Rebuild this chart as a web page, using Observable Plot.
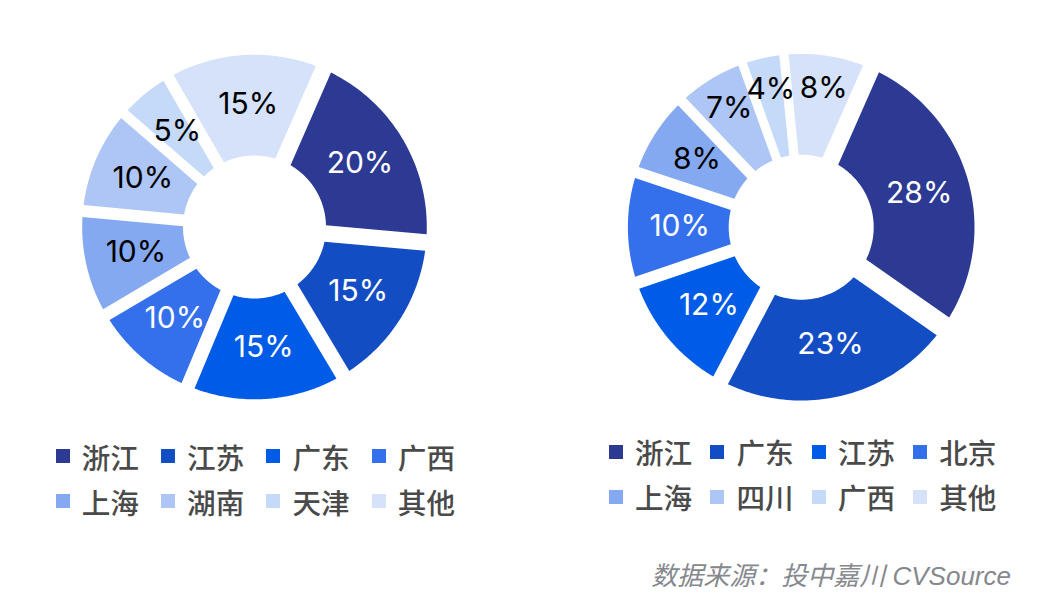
<!DOCTYPE html>
<html lang="zh">
<head>
<meta charset="utf-8">
<script src="https://cdn.jsdelivr.net/npm/d3@7"></script>
<script src="https://cdn.jsdelivr.net/npm/@observablehq/plot@0.6"></script>
<style>
  html, body { margin: 0; padding: 0; background: #fff; }
  #page { position: relative; width: 1044px; height: 614px; overflow: hidden; font-family: "Noto Sans CJK SC", sans-serif; }
  .chart { position: absolute; top: 0; }
  .chart svg { display: block; background: transparent; }
  .legend { position: absolute; display: grid; grid-template-rows: repeat(2, 45px); grid-auto-flow: row; color: #4a4a4a; font-size: 28.6px; font-weight: 500; }
  .legend .item { display: flex; align-items: center; white-space: nowrap; }
  .legend .swatch { width: 14px; height: 14px; margin-right: 12px; flex: none; }
  #source { position: absolute; right: 33px; top: 557px; font-family: "Liberation Sans", "Noto Sans CJK SC", sans-serif; font-size: 26px; line-height: 38px; font-style: italic; color: #85888d; white-space: nowrap; }
</style>
</head>
<body>
<div id="page">
  <div class="chart" id="leftChart" style="left:0"></div>
  <div class="chart" id="rightChart" style="left:522px"></div>
  <div class="legend" id="leftLegend" style="left:55.7px;top:433.5px;grid-template-columns:repeat(4,105.4px)"></div>
  <div class="legend" id="rightLegend" style="left:609px;top:429px;grid-template-columns:repeat(4,101.4px)"></div>
  <div id="source">数据来源：投中嘉川 CVSource</div>
</div>
<script>
const palette = ["#2C3A94", "#134DC4", "#005CE6", "#3570EC", "#85A9F0", "#AEC6F5", "#C5D9F8", "#D5E2F9"];
const labelColors = ["#fff", "#fff", "#fff", "#fff", "#000", "#000", "#000", "#000"];

const leftRegions = ["浙江", "江苏", "广东", "广西", "上海", "湖南", "天津", "其他"];
const leftValues = [19.9, 15, 14.9, 10.2, 10, 9.9, 5.3, 14.9];
const leftGaps = [16.6, 15, 14, 12.6, 12, 10, 11.7, 16.6];          // px after each slice

const rightRegions = ["浙江", "广东", "江苏", "北京", "上海", "四川", "广西", "其他"];
const rightValues = [28.1, 23, 12.1, 10.3, 7.8, 6.6, 3.9, 8.2];
const rightGaps = [21.7, 16.5, 12.7, 11.7, 10.7, 9, 9.3, 17.3];     // px after each slice

function donut(target, regions, values, gaps, opts) {
  const {width, height, cx, cy, outer, inner, start, labelRadius} = opts;
  const total = d3.sum(values);
  const polar = (deg, r) => {
    const a = deg * Math.PI / 180;
    return {x: r * Math.sin(a), y: r * Math.cos(a)};
  };
  const pad = (g, r) => Math.asin(g / 2 / r) * 180 / Math.PI;
  let acc = start;
  const outline = [], labels = [];
  regions.forEach((region, i) => {
    const a0 = acc, a1 = acc + values[i] / total * 360;
    acc = a1;
    const g0 = gaps[(i + gaps.length - 1) % gaps.length], g1 = gaps[i];
    const pts = [];
    const o0 = a0 + pad(g0, outer), o1 = a1 - pad(g1, outer);
    const n0 = a0 + pad(g0, inner), n1 = a1 - pad(g1, inner);
    for (let k = 0; k <= 60; ++k) pts.push(polar(o0 + (o1 - o0) * k / 60, outer));
    for (let k = 60; k >= 0; --k) pts.push(polar(n0 + (n1 - n0) * k / 60, inner));
    pts.push(pts[0]);
    pts.forEach(p => outline.push({region, x: p.x, y: p.y}));
    const mid = polar((a0 + a1) / 2, labelRadius ? labelRadius[i] : 122);
    labels.push({region, text: Math.round(values[i]) + "%", color: labelColors[i], x: mid.x, y: mid.y});
  });
  const chart = Plot.plot({
    width, height,
    margin: 0,
    style: {background: "transparent"},
    x: {domain: [-cx, width - cx], axis: null},
    y: {domain: [cy - height, cy], axis: null},
    color: {domain: regions, range: palette},
    marks: [
      Plot.line(outline, {x: "x", y: "y", z: "region", fill: "region", stroke: "none", curve: "linear"}),
      Plot.text(labels, {x: "x", y: "y", text: "text", fill: "color", fontSize: 30, fontFamily: "Inter, sans-serif", fontWeight: 400, textAnchor: "middle", lineAnchor: "middle", dx: 0.5, dy: -1})
    ]
  });
  document.getElementById(target).appendChild(chart);
}

function legend(target, regions) {
  const root = document.getElementById(target);
  regions.forEach((name, i) => {
    const item = document.createElement("div");
    item.className = "item";
    const sw = document.createElement("span");
    sw.className = "swatch";
    sw.style.background = palette[i];
    const t = document.createElement("span");
    t.textContent = name;
    item.append(sw, t);
    root.appendChild(item);
  });
}

donut("leftChart", leftRegions, leftValues, leftGaps, {width: 522, height: 425, cx: 254, cy: 226.5, outer: 172.3, inner: 71.5, start: 23.6});
donut("rightChart", rightRegions, rightValues, rightGaps, {width: 522, height: 425, cx: 278.7, cy: 226.7, outer: 173.3, inner: 72.5, start: 23.8, labelRadius: [122, 122, 122, 122, 124, 138, 140, 140]});
legend("leftLegend", leftRegions);
legend("rightLegend", rightRegions);
</script>
</body>
</html>
